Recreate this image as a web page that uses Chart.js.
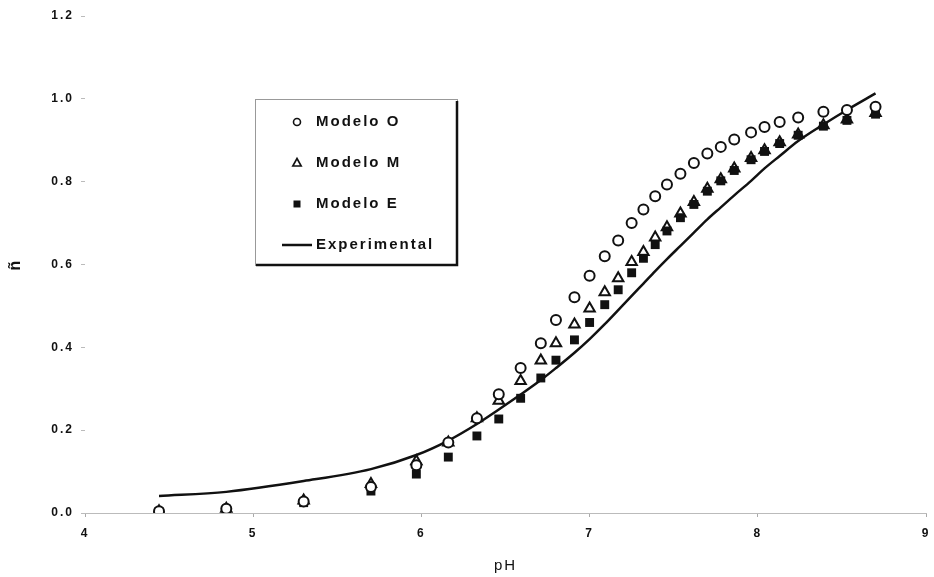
<!DOCTYPE html>
<html lang="es">
<head>
  <meta charset="UTF-8">
  <title>ñ vs pH</title>
  <script src="https://cdn.jsdelivr.net/npm/chart.js@4.4.0/dist/chart.umd.min.js"></script>
  <style>
  html, body {
    margin: 0;
    padding: 0;
    background: #fff;
    overflow: hidden;
  }
  </style>
</head>
<body>
<canvas id="myChart" width="934" height="577"></canvas>
<script>
    // pH values shared by all series
    const phValues = [4.44, 4.84, 5.30, 5.70, 5.97, 6.16, 6.33, 6.46, 6.59, 6.71, 6.80, 6.91, 7.00, 7.09, 7.17, 7.25,
      7.32, 7.39, 7.46, 7.54, 7.62, 7.70, 7.78, 7.86, 7.96, 8.04, 8.13, 8.24, 8.39, 8.53, 8.70];

    const modeloO = [0.004, 0.010, 0.028, 0.063, 0.115, 0.170, 0.229, 0.287, 0.350, 0.410, 0.466, 0.521, 0.573, 0.620, 0.658, 0.700,
      0.733, 0.765, 0.793, 0.819, 0.845, 0.868, 0.884, 0.902, 0.919, 0.932, 0.944, 0.955, 0.969, 0.973, 0.981];

    const modeloM = [0.004, 0.010, 0.030, 0.070, 0.125, 0.170, 0.229, 0.271, 0.319, 0.368, 0.410, 0.455, 0.494, 0.533, 0.567, 0.606,
      0.630, 0.665, 0.690, 0.723, 0.751, 0.783, 0.806, 0.832, 0.857, 0.876, 0.895, 0.914, 0.936, 0.950, 0.966];

    const modeloE = [0.003, 0.009, 0.025, 0.053, 0.094, 0.135, 0.186, 0.227, 0.277, 0.326, 0.369, 0.418, 0.460, 0.503, 0.539, 0.580,
      0.615, 0.648, 0.681, 0.713, 0.745, 0.777, 0.802, 0.827, 0.853, 0.873, 0.892, 0.912, 0.934, 0.948, 0.963];

    const experimental = [0.041, 0.051, 0.077, 0.106, 0.140, 0.175, 0.215, 0.250, 0.286, 0.321, 0.350, 0.387, 0.420, 0.456, 0.490, 0.524,
      0.554, 0.584, 0.613, 0.645, 0.677, 0.709, 0.738, 0.767, 0.802, 0.832, 0.862, 0.898, 0.938, 0.973, 1.013];

    const xTicks = [4, 5, 6, 7, 8, 9];
    const yTicks = [0, 0.2, 0.4, 0.6, 0.8, 1.0, 1.2];

    const legendItems = ['Modelo O', 'Modelo M', 'Modelo E', 'Experimental'];

    function toPoints(ys) {
      return phValues.map((x, i) => ({x: x, y: ys[i]}));
    }

    const FONT = "'Liberation Sans', Arial, sans-serif";

    // wide letter spacing like the scanned original
    const spacing = {
      id: 'spacing',
      beforeLayout: (chart) => { chart.ctx.letterSpacing = '2px'; },
      beforeDraw: (chart) => { chart.ctx.letterSpacing = '2px'; }
    };

    const legendBox = {
      id: 'legendBox',
      afterDraw: (chart) => {
        const ctx = chart.ctx;
        const left = chart.chartArea.left + 170;
        const top = chart.chartArea.top + 83;
        const w = 202, h = 166;
        ctx.save();
        ctx.fillStyle = '#fff';
        ctx.fillRect(left, top, w, h);
        ctx.strokeStyle = '#999';
        ctx.lineWidth = 1;
        ctx.strokeRect(left + 0.5, top + 0.5, w, h);
        ctx.strokeStyle = '#111';
        ctx.lineWidth = 2.5;
        ctx.beginPath();
        ctx.moveTo(left + w, top + 2);
        ctx.lineTo(left + w, top + h);
        ctx.lineTo(left + 1, top + h);
        ctx.stroke();

        ctx.letterSpacing = '2px';
        ctx.font = 'bold 15px ' + FONT;
        ctx.textBaseline = 'middle';
        ctx.textAlign = 'left';
        const mx = left + 42;
        legendItems.forEach((txt, i) => {
          const cy = top + 23 + i * 41;
          ctx.fillStyle = '#111';
          ctx.fillText(txt, left + 61, cy);
          ctx.strokeStyle = '#111';
          ctx.lineWidth = 1.6;
          ctx.beginPath();
          if (i === 0) {
            ctx.fillStyle = '#fff';
            ctx.arc(mx, cy, 3.5, 0, Math.PI * 2);
            ctx.fill();
            ctx.stroke();
          } else if (i === 1) {
            ctx.fillStyle = '#fff';
            ctx.moveTo(mx, cy - 4.5);
            ctx.lineTo(mx + 4.2, cy + 3);
            ctx.lineTo(mx - 4.2, cy + 3);
            ctx.closePath();
            ctx.fill();
            ctx.stroke();
          } else if (i === 2) {
            ctx.fillStyle = '#111';
            ctx.fillRect(mx - 3.5, cy - 3.5, 7, 7);
          } else {
            ctx.lineWidth = 2.5;
            ctx.moveTo(left + 27, cy);
            ctx.lineTo(left + 57, cy);
            ctx.stroke();
          }
        });
        ctx.restore();
      }
    };

    Chart.defaults.font.family = FONT;
    Chart.defaults.color = '#111';

    const ctx = document.getElementById('myChart');
    const myChart = new Chart(ctx, {
      type: 'scatter',
      data: {
        datasets: [{
          label: 'Modelo O',
          data: toPoints(modeloO),
          pointStyle: 'circle',
          pointRadius: 5,
          pointBorderWidth: 2,
          backgroundColor: '#fff',
          borderColor: '#111',
          order: 0
        }, {
          label: 'Modelo E',
          data: toPoints(modeloE),
          pointStyle: 'rect',
          pointRadius: 6.3,
          pointBorderWidth: 0,
          backgroundColor: '#111',
          borderColor: '#111',
          order: 1
        }, {
          label: 'Modelo M',
          data: toPoints(modeloM),
          pointStyle: 'triangle',
          pointRadius: 6,
          pointBorderWidth: 2,
          backgroundColor: '#fff',
          borderColor: '#111',
          order: 2
        }, {
          label: 'Experimental',
          type: 'line',
          data: toPoints(experimental),
          showLine: true,
          borderColor: '#111',
          borderWidth: 2.5,
          pointRadius: 0,
          cubicInterpolationMode: 'monotone',
          fill: false,
          order: 3
        }]
      },
      options: {
        responsive: false,
        animation: false,
        layout: {
          padding: {top: 16, right: 4, bottom: 0, left: 0}
        },
        scales: {
          x: {
            type: 'linear',
            min: 4,
            max: 9,
            afterBuildTicks: (scale) => { scale.ticks = xTicks.map(v => ({value: v})); },
            afterFit: (scale) => {
              scale.height = 64;
              scale.paddingLeft = 0;
              scale.paddingRight = 0;
            },
            ticks: {
              padding: 9,
              font: {size: 12, weight: 'bold'},
              callback: (v) => String(v)
            },
            grid: {
              display: true,
              drawOnChartArea: false,
              tickLength: 4,
              color: '#aaa'
            },
            border: {
              display: true,
              color: '#bbb',
              dash: [3, 2],
              width: 1
            },
            title: {
              display: true,
              text: 'pH',
              font: {size: 15},
              padding: {top: 0, bottom: 2}
            }
          },
          y: {
            min: 0,
            max: 1.2,
            afterBuildTicks: (scale) => { scale.ticks = yTicks.map(v => ({value: v})); },
            afterFit: (scale) => {
              scale.width = 85;
              scale.paddingTop = 0;
              scale.paddingBottom = 0;
            },
            ticks: {
              padding: 7,
              font: {size: 12, weight: 'bold'},
              callback: (v) => v.toFixed(1)
            },
            grid: {
              display: true,
              drawOnChartArea: false,
              tickLength: 4,
              color: '#bbb'
            },
            border: {display: false},
            title: {
              display: true,
              text: 'ñ',
              font: {size: 16, weight: 'bold'},
              padding: {top: 6, bottom: 0}
            }
          }
        },
        plugins: {
          legend: {display: false},
          tooltip: {enabled: false}
        }
      },
      plugins: [spacing, legendBox]
    });
</script>
</body>
</html>
